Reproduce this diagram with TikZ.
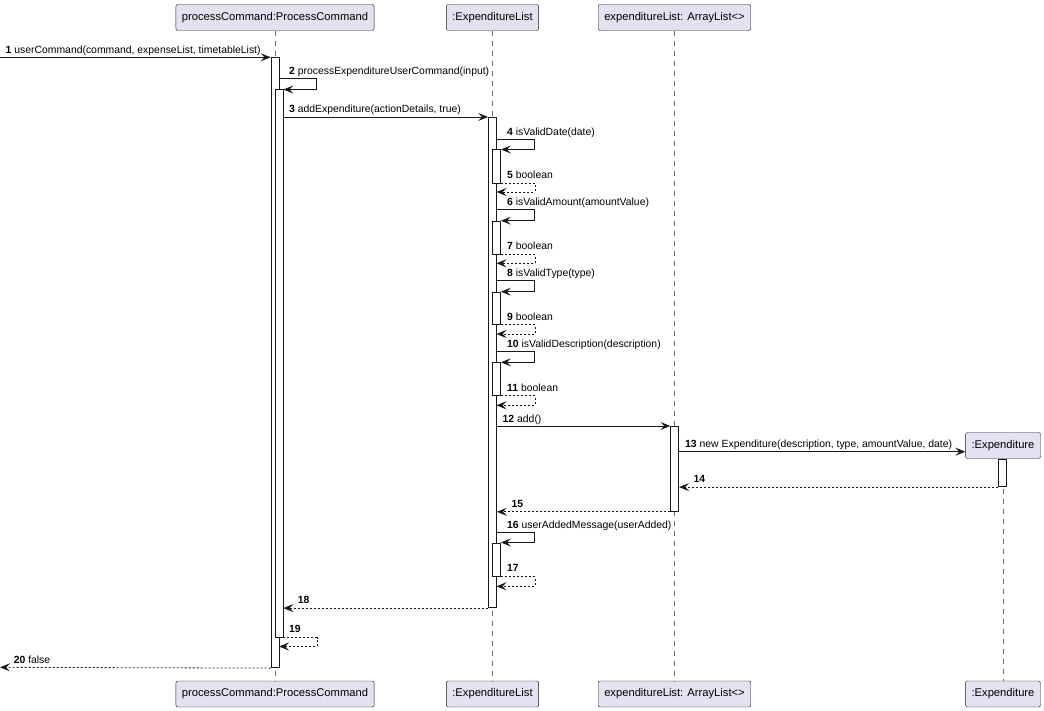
\documentclass[tikz,border=0pt]{standalone}
\usepackage{fontspec}
\setmainfont{Liberation Sans}
\usetikzlibrary{arrows.meta}
\definecolor{partfill}{HTML}{E2E2F0}
\definecolor{umlline}{HTML}{181818}

\begin{document}
\begin{tikzpicture}[x=1pt, y=-1pt,
    part/.style={draw=umlline, fill=partfill, rounded corners=2pt, minimum height=26pt, inner xsep=6pt, font=\fontsize{11.2}{13}\selectfont},
    life/.style={draw=umlline!65, dash pattern=on 5pt off 5pt, line width=0.6pt},
    act/.style={draw=umlline, fill=white, inner sep=0pt, minimum width=8pt, anchor=north, line width=0.8pt},
    msg/.style={draw=umlline, line width=0.8pt, -{Stealth[length=10pt, width=8pt, inset=4pt]}},
    ret/.style={msg, dash pattern=on 2pt off 2pt},
    lbl/.style={anchor=base west, inner sep=0pt, font=\fontsize{10.4}{12}\selectfont}]

    \useasboundingbox (0,0) rectangle (1044,711);

    % participants
    \node[part] (pcTop) at (275,17.5) {processCommand:ProcessCommand};
    \node[part] (elTop) at (492.5,17.5) {:ExpenditureList};
    \node[part] (alTop) at (674.5,17.5) {expenditureList: ArrayList<>};
    \node[part] (exTop) at (1003,445.5) {:Expenditure};
    \node[part] (pcBot) at (275,694) {processCommand:ProcessCommand};
    \node[part] (elBot) at (492.5,694) {:ExpenditureList};
    \node[part] (alBot) at (674.5,694) {expenditureList: ArrayList<>};
    \node[part] (exBot) at (1003,694) {:Expenditure};

    % lifelines
    \draw[life] (pcTop.south) -- (pcBot.north);
    \draw[life] (elTop.south) -- (elBot.north);
    \draw[life] (alTop.south) -- (alBot.north);
    \draw[life] (exTop.south) -- (exBot.north);

    % activations
    \node[act, minimum height=610pt] (pcAct) at (275,57.3) {};
    \node[act, minimum height=547.5pt] (pcSub) at (279,89.5) {};
    \node[act, minimum height=490.3pt] (elAct) at (492.5,117) {};
    \node[act, minimum height=33.2pt] (actDate) at (496.5,149.5) {};
    \node[act, minimum height=33.3pt] (actAmount) at (496.5,220.7) {};
    \node[act, minimum height=32.3pt] (actType) at (496.5,291.7) {};
    \node[act, minimum height=32.7pt] (actDesc) at (496.5,362.3) {};
    \node[act, minimum height=33.5pt] (actMsg) at (496.5,542.5) {};
    \node[act, minimum height=85pt] (alAct) at (674.7,426) {};
    \node[act, minimum height=27.3pt] (exAct) at (1002.5,459) {};

    % messages
    \coordinate (inStart) at (0,57.3);
    \draw[msg] (inStart) -- (pcAct.north west);
    \node[lbl] (l1) at (5.5,53.3) {\textbf{1} userCommand(command, expenseList, timetableList)};

    \coordinate (s2) at (279,78.5);
    \draw[msg] (s2) -- ++(37.5,0) |- (pcSub.north east);
    \node[lbl] (l2) at (289,74.5) {\textbf{2} processExpenditureUserCommand(input)};

    \coordinate (s3) at (283,117);
    \draw[msg] (s3) -- (elAct.north west);
    \node[lbl] (l3) at (289,113) {\textbf{3} addExpenditure(actionDetails, true)};

    % validation
    \coordinate (s4) at (496.5,139.3);
    \draw[msg] (s4) -- ++(38,0) |- (actDate.north east);
    \node[lbl] (l4) at (507,135.3) {\textbf{4} isValidDate(date)};
    \coordinate (r5) at (496.5,192);
    \draw[ret] (actDate.south east) -- ++(34,0) |- (r5);
    \node[lbl] (l5) at (507,178.7) {\textbf{5} boolean};

    \coordinate (s6) at (496.5,209.7);
    \draw[msg] (s6) -- ++(38,0) |- (actAmount.north east);
    \node[lbl] (l6) at (507,205.7) {\textbf{6} isValidAmount(amountValue)};
    \coordinate (r7) at (496.5,263.3);
    \draw[ret] (actAmount.south east) -- ++(34,0) |- (r7);
    \node[lbl] (l7) at (507,250) {\textbf{7} boolean};

    \coordinate (s8) at (496.5,280.7);
    \draw[msg] (s8) -- ++(38,0) |- (actType.north east);
    \node[lbl] (l8) at (507,276.7) {\textbf{8} isValidType(type)};
    \coordinate (r9) at (496.5,334);
    \draw[ret] (actType.south east) -- ++(34,0) |- (r9);
    \node[lbl] (l9) at (507,320) {\textbf{9} boolean};

    \coordinate (s10) at (496.5,351.7);
    \draw[msg] (s10) -- ++(38,0) |- (actDesc.north east);
    \node[lbl] (l10) at (507,347.7) {\textbf{10} isValidDescription(description)};
    \coordinate (r11) at (496.5,405.3);
    \draw[ret] (actDesc.south east) -- ++(34,0) |- (r11);
    \node[lbl] (l11) at (507,391) {\textbf{11} boolean};

    % add to list
    \coordinate (s12) at (496.5,426);
    \draw[msg] (s12) -- (alAct.north west);
    \node[lbl] (l12) at (502.5,422) {\textbf{12} add()};

    \coordinate (s13) at (678.7,451.7);
    \draw[msg] (s13) -- (exTop.west |- s13);
    \node[lbl] (l13) at (685,447.7) {\textbf{13} new Expenditure(description, type, amountValue, date)};

    \draw[ret] (exAct.south west) -- (alAct.east |- exAct.south);
    \node[lbl] (l14) at (693.3,482.3) {\textbf{14}};

    \draw[ret] (alAct.south west) -- (elAct.east |- alAct.south);
    \node[lbl] (l15) at (511.5,507) {\textbf{15}};

    \coordinate (s16) at (496.5,532.3);
    \draw[msg] (s16) -- ++(38,0) |- (actMsg.north east);
    \node[lbl] (l16) at (507,528.3) {\textbf{16} userAddedMessage(userAdded)};
    \coordinate (r17) at (496.5,586.3);
    \draw[ret] (actMsg.south east) -- ++(34,0) |- (r17);
    \node[lbl] (l17) at (507,571.7) {\textbf{17}};

    % back to caller
    \draw[ret] (elAct.south west) -- (pcSub.east |- elAct.south);
    \node[lbl] (l18) at (297.7,603.3) {\textbf{18}};

    \coordinate (r19) at (279,646.5);
    \draw[ret] (pcSub.south east) -- ++(33.5,0) |- (r19);
    \node[lbl] (l19) at (289,632.7) {\textbf{19}};

    \coordinate (outEnd) at (0,667.3);
    \draw[ret] (pcAct.south west) -- (outEnd);
    \node[lbl] (l20) at (13.6,663.3) {\textbf{20} false};

\end{tikzpicture}
\end{document}
